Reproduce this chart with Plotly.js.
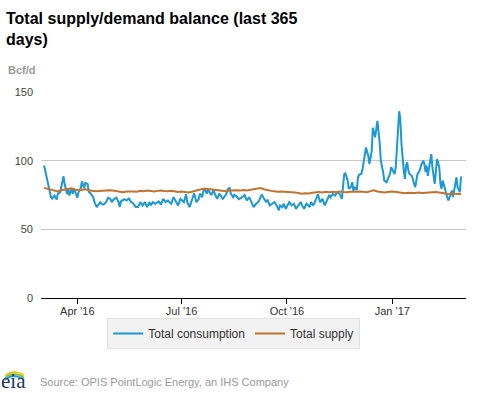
<!DOCTYPE html>
<html>
<head>
<meta charset="utf-8">
<script src="https://cdn.plot.ly/plotly-3.0.1.min.js"></script>
<style>html,body{margin:0;padding:0;background:#fff;}#chart{width:477px;height:393px;}</style>
</head>
<body>
<div id="chart"></div>
<script>
// ---- data ----
const consumptionDates = [
"2016-03-03","2016-03-05","2016-03-07","2016-03-09","2016-03-10","2016-03-12","2016-03-14","2016-03-15","2016-03-17","2016-03-19",
"2016-03-20","2016-03-21","2016-03-23","2016-03-24","2016-03-25","2016-03-27","2016-03-28","2016-03-29","2016-03-31","2016-04-01",
"2016-04-02","2016-04-04","2016-04-05","2016-04-07","2016-04-08","2016-04-10","2016-04-11","2016-04-13","2016-04-15","2016-04-16",
"2016-04-18","2016-04-19","2016-04-21","2016-04-22","2016-04-24","2016-04-26","2016-04-28","2016-04-30","2016-05-01","2016-05-03",
"2016-05-05","2016-05-07","2016-05-08","2016-05-09","2016-05-12","2016-05-14","2016-05-16","2016-05-18","2016-05-20","2016-05-22",
"2016-05-24","2016-05-26","2016-05-28","2016-05-30","2016-06-01","2016-06-03","2016-06-04","2016-06-06","2016-06-08","2016-06-11",
"2016-06-13","2016-06-15","2016-06-17","2016-06-19","2016-06-22","2016-06-24","2016-06-26","2016-06-28","2016-06-30","2016-07-03",
"2016-07-05","2016-07-06","2016-07-08","2016-07-10","2016-07-12","2016-07-14","2016-07-16","2016-07-17","2016-07-19","2016-07-20",
"2016-07-21","2016-07-23","2016-07-24","2016-07-27","2016-07-29","2016-07-30","2016-08-01","2016-08-03","2016-08-04","2016-08-06",
"2016-08-09","2016-08-10","2016-08-12","2016-08-13","2016-08-15","2016-08-16","2016-08-18","2016-08-20","2016-08-23","2016-08-25",
"2016-08-27","2016-08-29","2016-08-31","2016-09-02","2016-09-04","2016-09-06","2016-09-08","2016-09-09","2016-09-11","2016-09-13",
"2016-09-14","2016-09-16","2016-09-18","2016-09-20","2016-09-22","2016-09-24","2016-09-25","2016-09-27","2016-09-28","2016-09-30",
"2016-10-03","2016-10-05","2016-10-07","2016-10-09","2016-10-11","2016-10-13","2016-10-15","2016-10-16","2016-10-18","2016-10-21",
"2016-10-22","2016-10-24","2016-10-26","2016-10-28","2016-10-30","2016-11-01","2016-11-03","2016-11-05","2016-11-07","2016-11-08",
"2016-11-10","2016-11-12","2016-11-14","2016-11-16","2016-11-18","2016-11-20","2016-11-21","2016-11-23","2016-11-24","2016-11-26",
"2016-11-27","2016-11-28","2016-11-29","2016-12-01","2016-12-02","2016-12-03","2016-12-05","2016-12-06","2016-12-08","2016-12-09",
"2016-12-11","2016-12-12","2016-12-14","2016-12-15","2016-12-17","2016-12-18","2016-12-19","2016-12-21","2016-12-22","2016-12-24",
"2016-12-25","2016-12-27","2016-12-28","2016-12-30","2016-12-31","2017-01-02","2017-01-03","2017-01-04","2017-01-06","2017-01-07",
"2017-01-08","2017-01-09","2017-01-11","2017-01-12","2017-01-13","2017-01-14","2017-01-15","2017-01-16","2017-01-18","2017-01-19",
"2017-01-21","2017-01-22","2017-01-23","2017-01-25","2017-01-26","2017-01-28","2017-01-29","2017-01-30","2017-01-31","2017-02-01",
"2017-02-03","2017-02-04","2017-02-05","2017-02-06","2017-02-07","2017-02-08","2017-02-09","2017-02-11","2017-02-12","2017-02-13",
"2017-02-14","2017-02-16","2017-02-17","2017-02-19","2017-02-20","2017-02-22","2017-02-23","2017-02-25","2017-02-26","2017-02-27",
"2017-03-01","2017-03-02"
];
const consumption = [
96.5,89,79.5,73.4,72.4,74.6,71.7,76,77,84.3,
88.6,82.8,75.8,80,74.6,79.5,75.8,80,74,73,
77,80,84.8,80,83.8,83,77.3,75.8,73,69.8,
66.2,67.4,69.8,68.6,68,69.8,73,72,69.8,72,
73,69.8,66.2,70.3,72,71,72.5,69.8,68.6,66.2,
66.2,69.8,67.4,69.8,66.2,69.8,67.4,69.8,68.6,70.3,
68,72.2,69.8,71,68.6,73.4,69.8,67.4,72.2,69.8,
75.5,69.8,66.2,72.2,76.3,69.8,72,76,73.4,77.5,
80,76,78.7,75,78.7,76,72.2,76,75,72.2,
75.5,78.7,80.5,76,73.4,75,74,72,73.4,75,
71,73.4,69.8,66.2,68.6,69.8,73.4,75.3,72.2,69.8,
71.7,67.4,68.6,69.8,67.4,63.8,67.4,66.2,68.6,65,
69.8,67.4,68.6,65,67.4,69.8,66.2,65,68.6,66.2,
69.8,67.4,71,75.5,69.8,72.2,67.4,71,75,73.4,
75.8,74.6,77,75.8,72.2,90.3,90.8,85.5,79.5,81,
84.3,78,81,78.5,87.7,89.7,90.5,93.7,102.4,109.6,
103.6,97.6,107,124,117,122.9,129,112.8,100,91.6,
85.5,84.3,86.7,90.3,95.2,91.6,90.3,95.2,119.3,136,
130,112,92.8,86.7,96.4,98.8,92.8,90.3,89,85.5,
80.7,85.5,90.3,92.8,96.4,100,97.6,91.6,96.4,89,
100,104.8,95.2,86.7,83.1,91.6,101.2,95.2,83,79.5,
85.5,79.5,75.8,71,73.4,78.3,73.4,83,87.9,80.7,
77.1,88.5
];
const supplyDates = [
"2016-03-03","2016-03-06","2016-03-09","2016-03-12","2016-03-15","2016-03-18","2016-03-21","2016-03-24","2016-03-27","2016-03-30",
"2016-04-02","2016-04-05","2016-04-08","2016-04-11","2016-04-14","2016-04-17","2016-04-20","2016-04-23","2016-04-26","2016-04-29",
"2016-05-02","2016-05-05","2016-05-08","2016-05-11","2016-05-14","2016-05-17","2016-05-20","2016-05-23","2016-05-26","2016-05-29",
"2016-06-01","2016-06-04","2016-06-07","2016-06-10","2016-06-13","2016-06-16","2016-06-19","2016-06-22","2016-06-25","2016-06-28",
"2016-07-01","2016-07-04","2016-07-07","2016-07-10","2016-07-13","2016-07-16","2016-07-19","2016-07-22","2016-07-25","2016-07-28",
"2016-07-31","2016-08-03","2016-08-06","2016-08-09","2016-08-12","2016-08-15","2016-08-18","2016-08-21","2016-08-24","2016-08-27",
"2016-08-30","2016-09-02","2016-09-05","2016-09-08","2016-09-11","2016-09-14","2016-09-17","2016-09-20","2016-09-23","2016-09-26",
"2016-09-29","2016-10-02","2016-10-05","2016-10-08","2016-10-11","2016-10-14","2016-10-17","2016-10-20","2016-10-23","2016-10-26",
"2016-10-29","2016-11-01","2016-11-04","2016-11-07","2016-11-10","2016-11-13","2016-11-16","2016-11-19","2016-11-22","2016-11-25",
"2016-11-28","2016-12-01","2016-12-04","2016-12-07","2016-12-10","2016-12-13","2016-12-16","2016-12-19","2016-12-22","2016-12-25",
"2016-12-28","2016-12-31","2017-01-03","2017-01-06","2017-01-09","2017-01-12","2017-01-15","2017-01-18","2017-01-21","2017-01-24",
"2017-01-27","2017-01-30","2017-02-02","2017-02-05","2017-02-08","2017-02-11","2017-02-14","2017-02-17","2017-02-20","2017-02-23",
"2017-02-26","2017-03-01","2017-03-02"
];
const supply = [
80.2,79.6,79.0,78.2,77.6,78.4,79.0,79.5,79.8,78.8,
78.5,78.9,79.1,78.4,78.0,77.8,77.9,78.2,78.0,78.4,
78.3,78.0,77.6,77.0,77.5,77.8,77.6,77.4,78.0,77.8,
78.2,78.0,77.6,78.0,78.3,77.9,77.7,78.1,77.6,77.2,
77.5,77.0,76.8,77.4,78.2,78.8,79.4,79.5,79.2,79.4,
78.8,78.4,78.0,77.8,78.2,78.6,78.5,78.2,78.7,78.3,
78.6,78.9,79.3,80.0,79.2,78.4,78.0,77.8,77.4,77.6,
77.5,77.2,77.4,76.9,76.4,76.0,76.2,76.1,76.6,77.0,
77.2,76.8,77.3,77.0,77.4,77.1,77.5,77.2,77.0,77.4,
77.1,77.3,77.6,77.2,77.0,77.8,78.4,77.6,77.1,76.8,
77.2,77.6,77.3,77.0,76.5,76.2,76.6,76.3,76.5,76.8,
76.4,76.6,76.8,77.0,77.2,76.8,76.3,75.9,75.6,76.0,
75.7,75.5,75.8
];
const seriesNames = ["Total consumption", "Total supply"];
const tickDates = ["2016-04-01","2016-07-01","2016-10-01","2017-01-01"];
const tickLabels = ["Apr '16","Jul '16","Oct '16","Jan '17"];
const yTicks = [0, 50, 100, 150];

// ---- layout helpers (pixel -> paper) ----
const W = 477, H = 393, L = 41, R = 11, T = 92, B = 95;
const PW = W - L - R, PH = H - T - B;
const px = x => (x - L) / PW;
const py = y => (H - B - y) / PH;

const traces = [
  {x: consumptionDates, y: consumption, name: seriesNames[0], type: 'scatter', mode: 'lines',
   line: {color: '#1b98d5', width: 2}},
  {x: supplyDates, y: supply, name: seriesNames[1], type: 'scatter', mode: 'lines',
   line: {color: '#c0732f', width: 2}}
];

function arc(y0, color) {
  return {type: 'path', xref: 'paper', yref: 'paper',
    path: 'M ' + px(5) + ',' + py(y0 + 2.5) + ' Q ' + px(13) + ',' + py(y0 - 5) + ' ' + px(24) + ',' + py(y0 + 2),
    line: {color: color, width: 1.6}};
}

const layout = {
  width: W, height: H,
  margin: {l: L, r: R, t: T, b: B, pad: 0},
  paper_bgcolor: '#ffffff', plot_bgcolor: '#ffffff',
  font: {family: '"Liberation Sans", Arial, sans-serif', color: '#333333', size: 11},
  title: {
    text: '<b>Total supply/demand balance (last 365<br>days)</b>',
    x: 6 / W, xref: 'container', xanchor: 'left',
    y: 1 - 24 / H, yref: 'container', yanchor: 'top',
    font: {size: 16, color: '#000000', family: '"Liberation Sans", Arial, sans-serif'}
  },
  xaxis: {
    type: 'date',
    range: ['2016-02-29 07:00', '2017-03-06 08:00'],
    tickmode: 'array', tickvals: tickDates, ticktext: tickLabels,
    ticks: 'outside', ticklen: 5, tickwidth: 1, tickcolor: '#000000',
    showline: true, linecolor: '#000000', linewidth: 1,
    showgrid: false, zeroline: false,
    ticklabelstandoff: -2,
    tickfont: {size: 11, color: '#333333'}
  },
  yaxis: {
    range: [0, 150], tickmode: 'array', tickvals: yTicks,
    showgrid: true, gridcolor: '#c8c8c8', gridwidth: 1,
    zeroline: false, showline: false, ticks: '',
    ticklabelstandoff: 7,
    tickfont: {size: 11, color: '#444444'}
  },
  showlegend: true,
  legend: {
    orientation: 'h', xref: 'container', yref: 'container',
    x: 0.49, xanchor: 'center', y: 1 - 318 / H, yanchor: 'top',
    bgcolor: '#f2f2f2', bordercolor: '#e2e2e2', borderwidth: 1,
    font: {size: 12, color: '#333333'}
  },
  annotations: [
    {text: '<b>Bcf/d</b>', xref: 'paper', yref: 'paper', x: px(6), y: py(70),
     xanchor: 'left', yanchor: 'middle', showarrow: false,
     font: {size: 11, color: '#999999'}},
    {text: 'Source: OPIS PointLogic Energy, an IHS Company', xref: 'paper', yref: 'paper',
     x: px(38), y: py(382), xanchor: 'left', yanchor: 'middle', showarrow: false,
     font: {size: 11, color: '#999999'}},
    {text: 'eia', xref: 'paper', yref: 'paper', x: px(-1), y: py(381),
     xanchor: 'left', yanchor: 'middle', showarrow: false,
     font: {size: 21, color: '#1d3866', family: '"Liberation Serif", "DejaVu Serif", serif'}}
  ],
  shapes: [arc(373.5, '#f2c300'), arc(375.5, '#79bd43'), arc(377.5, '#1b98d5')]
};

Plotly.newPlot('chart', traces, layout, {displayModeBar: false, staticPlot: true});
</script>
</body>
</html>
